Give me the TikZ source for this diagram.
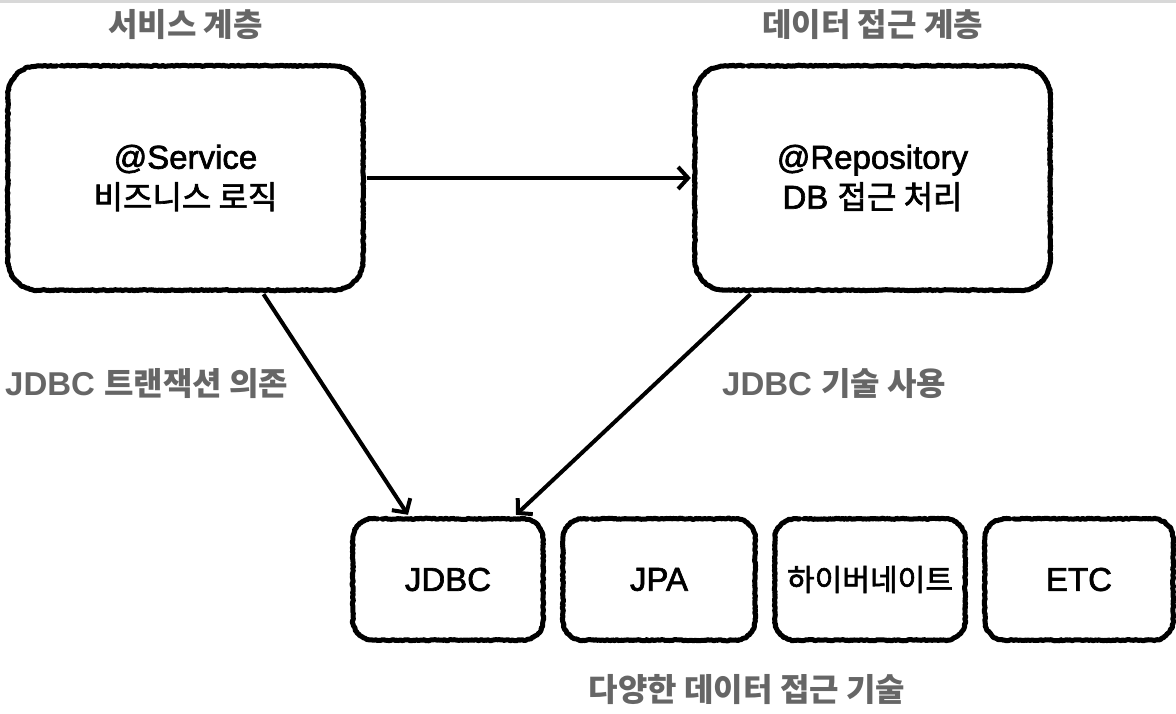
\documentclass[tikz,border=0pt]{standalone}
\usepackage{fontspec}
\setmainfont{Liberation Sans}
\newfontfamily\kr{Noto Sans CJK KR}[Scale=0.97]
\newfontfamily\boxfont{Liberation Sans}[FakeBold=2]
\newfontfamily\krbox{Noto Sans CJK KR}[Scale=0.97, FakeBold=2]
\usepackage{tikz}
\usetikzlibrary{arrows.meta,positioning,calc,decorations.pathmorphing}
\usepackage{xcolor}
\definecolor{labelgray}{RGB}{102,102,102}
\definecolor{topgray}{RGB}{216,216,216}

% hand-drawn frame round a node: name, corner radius, start of the pen gap
\newcommand{\sketchframe}[3]{%
  \draw[sketch] ($(#1.north west)+(#3+4,0)$) -- ($(#1.north east)+(-#2,0)$)
    arc[start angle=-90, end angle=0, radius=#2]
    -- ($(#1.south east)+(0,-#2)$)
    arc[start angle=0, end angle=90, radius=#2]
    -- ($(#1.south west)+(#2,0)$)
    arc[start angle=90, end angle=180, radius=#2]
    -- ($(#1.north west)+(0,#2)$)
    arc[start angle=180, end angle=270, radius=#2]
    -- ($(#1.north west)+(#3,0)$);}

\begin{document}
\begin{tikzpicture}[x=1pt, y=-1pt,
    sketch/.style={draw=black, line width=5pt, line join=round, line cap=round, decorate,
        decoration={random steps, segment length=1.6pt, amplitude=0.6pt}},
    layer/.style={minimum width=355pt, minimum height=224pt,
        inner sep=0pt, align=center, font=\fontsize{33}{40}\boxfont},
    tech/.style={minimum height=121pt,
        inner sep=0pt, align=center, font=\fontsize{33}{40}\boxfont},
    caption/.style={text=labelgray, font=\fontsize{33}{40}\selectfont\bfseries, inner sep=0pt},
    arr/.style={-{Straight Barb[length=10pt,width=22pt]}, line width=4pt}]

    \pgfmathsetseed{7}
    \useasboundingbox (0,0) rectangle (1176,714);
    \fill[topgray] (0,0) rectangle (1176,3);

    % Layers
    \node[caption] (svctitle) at (185.5,25) {\kr 서비스 계층};
    \node[caption] (repotitle) at (872.5,25) {\kr 데이터 접근 계층};
    \node[layer] (svc) at (185.5,178) {@Service\\{\krbox 비즈니스 로직}};
    \node[layer] (repo) at (872.5,178) {@Repository\\DB {\krbox 접근 처리}};
    \sketchframe{svc}{30}{49}
    \sketchframe{repo}{30}{49}

    % Data access technologies
    \node[tech, minimum width=190pt] (jdbc) at (448,579.5) {JDBC};
    \node[tech, minimum width=192pt] (jpa) at (659,579.5) {JPA};
    \node[tech, minimum width=190pt] (hib) at (870,579.5) {\fontsize{31}{36}\krbox 하이버네이트};
    \node[tech, minimum width=188pt] (etc) at (1079,579.5) {ETC};
    \foreach \t in {jdbc,jpa,hib,etc}
        {\sketchframe{\t}{20}{25}}
    \node[caption] (techtitle) at (747,690) {\kr 다양한 데이터 접근 기술};

    % Dependencies
    \node[caption, anchor=west] (txlabel) at (5,384) {JDBC {\kr 트랜잭션 의존}};
    \node[caption, anchor=west] (uselabel) at (722,384) {JDBC {\kr 기술 사용}};
    \draw[arr] ([xshift=4pt]svc.east) -- ([xshift=-4pt]repo.west);
    \draw[arr] ([xshift=78pt,yshift=-4pt]svc.south) -- ([xshift=-40pt,yshift=4pt]jdbc.north);
    \draw[arr] ([xshift=-122pt,yshift=-4pt]repo.south) -- ([xshift=68pt,yshift=4pt]jdbc.north);
\end{tikzpicture}
\end{document}
